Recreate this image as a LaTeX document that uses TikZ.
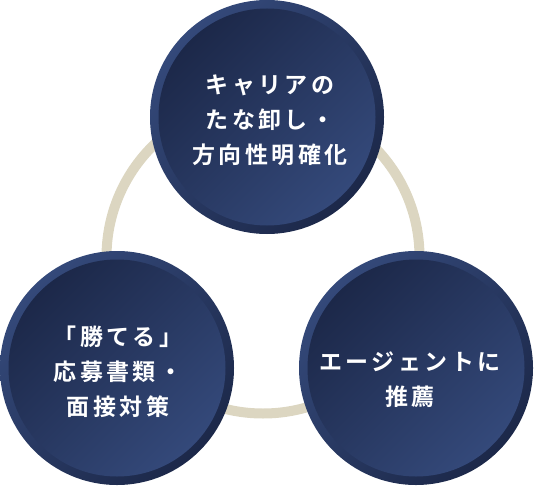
\documentclass[tikz,border=0pt]{standalone}
\usepackage{fontspec}
\newfontfamily\jp[LetterSpace=15,BoldFont={Noto Sans CJK JP Bold}]{Noto Sans CJK JP}
\definecolor{navydark}{HTML}{1C2849}
\definecolor{navylight}{HTML}{34497A}
\definecolor{ringbeige}{HTML}{DCD6C1}
\tikzset{
  outerdisc/.style={circle, minimum size=234pt, inner sep=0pt, draw=none,
    shading=axis, top color=navylight, bottom color=navydark, shading angle=45},
  innerdisc/.style={circle, minimum size=217pt, inner sep=0pt, draw=none,
    shading=axis, top color=navydark, bottom color=navylight, shading angle=45},
  label/.style={text=white, align=center, inner sep=0pt,
    font=\jp\bfseries\fontsize{23}{35}\selectfont},
  ringline/.style={draw=ringbeige, line width=10pt}
}
\begin{document}
\begin{tikzpicture}[x=1pt,y=-1pt]
\useasboundingbox (0,0) rectangle (534,486);
\coordinate (rc) at (263,257);
\draw[ringline] (rc) circle[radius=156.5];
\node[outerdisc] (topO) at (267,117) {};
\node[innerdisc] (topI) at (topO.center) {};
\node[outerdisc] (blO) at (117,368) {};
\node[innerdisc] (blI) at (blO.center) {};
\node[outerdisc] (brO) at (416,368) {};
\node[innerdisc] (brI) at (brO.center) {};
\node[label] (topT) at (270,120) {キャリアの\\たな卸し・\\方向性明確化};
\node[label] (blT) at (118,372) {「勝てる」\\応募書類・\\面接対策};
\node[label] (brT) at (410,380) {エージェントに\\推薦};
\end{tikzpicture}
\end{document}
